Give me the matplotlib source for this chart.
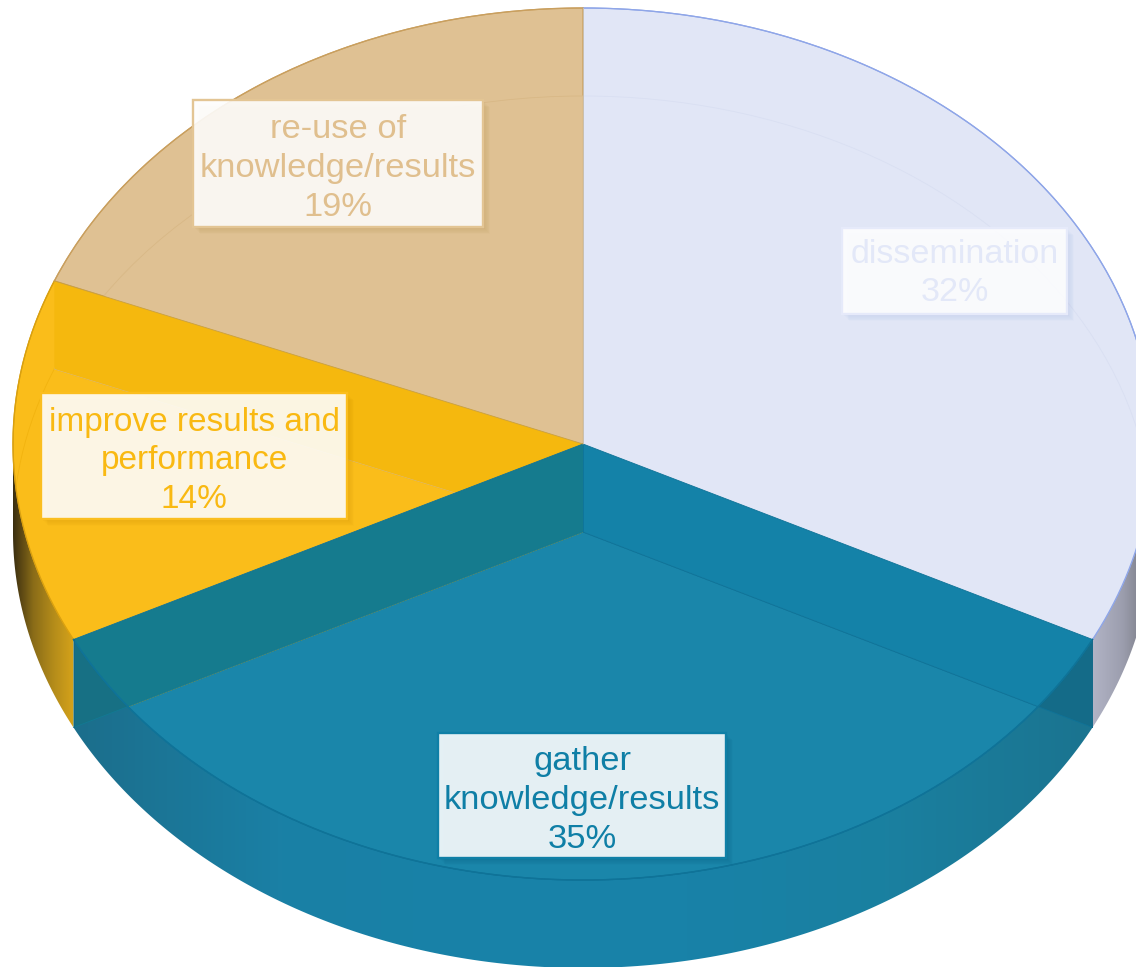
import numpy as np
import matplotlib
matplotlib.use("Agg")
import matplotlib.pyplot as plt
from matplotlib.colors import LinearSegmentedColormap
from matplotlib.patches import Ellipse, Polygon, Rectangle

plt.rcParams['font.family'] = ['Liberation Sans', 'DejaVu Sans']

# data
categories = ["dissemination", "gather\nknowledge/results", "improve results and\nperformance", "re-use of\nknowledge/results"]
values = [32.4, 35.2, 13.5, 18.9]
pct_labels = ["32%", "35%", "14%", "19%"]

# colours
top_colors = ["#e1e6f6", "#1482a8", "#fabd1a", "#dfc193"]
bottom_colors = ["#e1e6f6", "#1a86aa", "#fabd1a", "#dfc193"]
edge_colors = ["#8fa6e8", "#0f7398", "#d9a010", "#c99f5e"]
inner_edges = ["#d9dff2", "#0f7398", "#f2b30f", "#d8b886"]
text_colors = ["#e3e8f8", "#0f7fa6", "#f9b912", "#e0bf8e"]
box_edges = ["#e6eafa", "#0f7fa6", "#fbbe1e", "#e3c594"]
shadow_colors = ["#9fb2e6", "#0c5f7e", "#c98f05", "#b98d48"]

# pixel layout of the picture
W, H = 1136, 967
cx, cy, rx, ry = 583, 444, 570, 436
depth = 88 / ry

# centre and size of the label boxes, pixels
boxes = [(954.5, 271, 225, 86), (582, 795.5, 288, 125), (194, 456, 306, 126), (338, 163.5, 290, 127)]
text_shift = [2.5, 5, 5, 5]
font_sizes = [24.6, 24.8, 24.0, 24.8]


def px(x, y):
    return (x - cx) / rx, (cy - y) / ry


fig = plt.figure(figsize=(W / 100, H / 100), dpi=100)
ax = fig.add_axes([0, 0, 1, 1])

cum = np.cumsum([0] + values) / sum(values)
angles = 90 - 360 * cum  # wedge boundaries, degrees


def arc(a0, a1, shift=0.0):
    t = np.radians(np.linspace(a0, a1, 200))
    return np.column_stack([np.cos(t), np.sin(t) - shift])


def wall(a0, a1, stops, z=1):
    pts = np.vstack([arc(a0, a1), arc(a1, a0, depth)])
    cmap = LinearSegmentedColormap.from_list("w", stops)
    x0, x1 = pts[:, 0].min(), pts[:, 0].max()
    y0, y1 = pts[:, 1].min(), pts[:, 1].max()
    im = ax.imshow(np.linspace(0, 1, 256)[None, :], extent=[x0, x1, y0, y1], cmap=cmap,
                   aspect='auto', interpolation='bilinear', zorder=z)
    im.set_clip_path(Polygon(pts, closed=True, transform=ax.transData))


def slab(a, color, z, clip=None, lw=0.0, ec='none'):
    t = np.radians(a)
    p = np.array([[0, 0], [np.cos(t), np.sin(t)], [np.cos(t), np.sin(t) - depth], [0, -depth]])
    poly = Polygon(p, closed=True, facecolor=color, edgecolor=ec, linewidth=lw, zorder=z)
    ax.add_patch(poly)
    if clip is not None:
        poly.set_clip_path(clip)
    return poly


# side walls
wall(180, angles[2] + 360, ["#3a2e10", "#8a6c18", "#b48c1a", "#d6a31a"])
wall(angles[2], angles[1], ["#1c6e8c", "#1a80a5", "#1882a8", "#1882a8", "#1a80a0", "#1b7490"])
wall(angles[1], 0, ["#b2b4c6", "#9c9eae", "#6e7078"])
slab(angles[2], "#177084", 2)
slab(angles[1], "#146b88", 2)

# top of the pie
wedges, _ = ax.pie(values, colors=top_colors, startangle=90, counterclock=False, radius=1,
                   center=(0, 0), wedgeprops=dict(linewidth=0.9, zorder=3))
for w, ec in zip(wedges, edge_colors):
    w.set_edgecolor(ec)
ax.set_aspect('auto')

clip = Ellipse((0, 0), 2, 2, transform=ax.transData)

# bottom of the pie, seen through the top
low, _ = ax.pie(values, colors=bottom_colors, startangle=90, counterclock=False, radius=1,
                center=(0, -depth), wedgeprops=dict(linewidth=0.6, zorder=4))
for w, ec in zip(low, inner_edges):
    w.set_edgecolor(ec)
    w.set_clip_on(True)
    w.set_clip_path(clip)
ax.set_aspect('auto')

# inner walls seen through the top
slab(angles[3], "#f5b80e", 5, clip)
slab(angles[2], "#157b8e", 5, clip)
slab(angles[1], "#1482a8", 5, clip)

# redraw rim so the inner walls do not hide it
for a0, a1, ec in zip(angles[:-1], angles[1:], edge_colors):
    p = arc(a0, a1)
    ax.plot(p[:, 0], p[:, 1], color=ec, lw=0.9, zorder=6)
for a, ec in zip(angles[1:4], ["#0f7398", "#0f7398", "#c9a040"]):
    t = np.radians(a)
    ax.plot([0, np.cos(t)], [0, np.sin(t)], color=ec, lw=0.6, zorder=6)
ax.plot([0, 0], [0, 1], color="#c9bfae", lw=0.7, zorder=6)
ax.plot([0, 0], [0, -depth], color="#0f7398", lw=0.6, zorder=6)
for a, ec in zip(angles[1:3], ["#0f7398", "#127a94"]):
    t = np.radians(a)
    ax.plot([0, np.cos(t)], [-depth, np.sin(t) - depth], color=ec, lw=0.6, zorder=6)
p = arc(angles[1], angles[2])
ax.plot(p[:, 0], p[:, 1], color="#0f7398", lw=1.0, zorder=6)
for a in angles[1:3]:
    t = np.radians(a)
    ax.plot([np.cos(t), np.cos(t)], [np.sin(t), np.sin(t) - depth], color="#13698a", lw=0.7, zorder=6)

# label boxes
for i, (bx, by, bw, bh) in enumerate(boxes):
    x0, y1 = px(bx - bw / 2, by - bh / 2)
    x1, y0 = px(bx + bw / 2, by + bh / 2)
    for k in range(1, 10):
        sx, sy = k * 0.8 / rx, k * 0.8 / ry
        ax.add_patch(Rectangle((x0 + sx, y0 - sy), x1 - x0, y1 - y0, facecolor=shadow_colors[i],
                               edgecolor='none', alpha=0.035, zorder=7))
    ax.add_patch(Rectangle((x0, y0), x1 - x0, y1 - y0, facecolor=(1, 1, 1, 0.89),
                           edgecolor=box_edges[i], linewidth=1.7, zorder=8))
    ax.text((x0 + x1) / 2, (y0 + y1) / 2 - text_shift[i] / ry, categories[i] + "\n" + pct_labels[i], ha='center', va='center',
            ma='center', fontsize=font_sizes[i], linespacing=1.33, color=text_colors[i], zorder=9)

ax.set_xlim(-cx / rx, (W - cx) / rx)
ax.set_ylim((cy - H) / ry, cy / ry)
ax.axis('off')

fig.savefig("out.png", dpi=100)
